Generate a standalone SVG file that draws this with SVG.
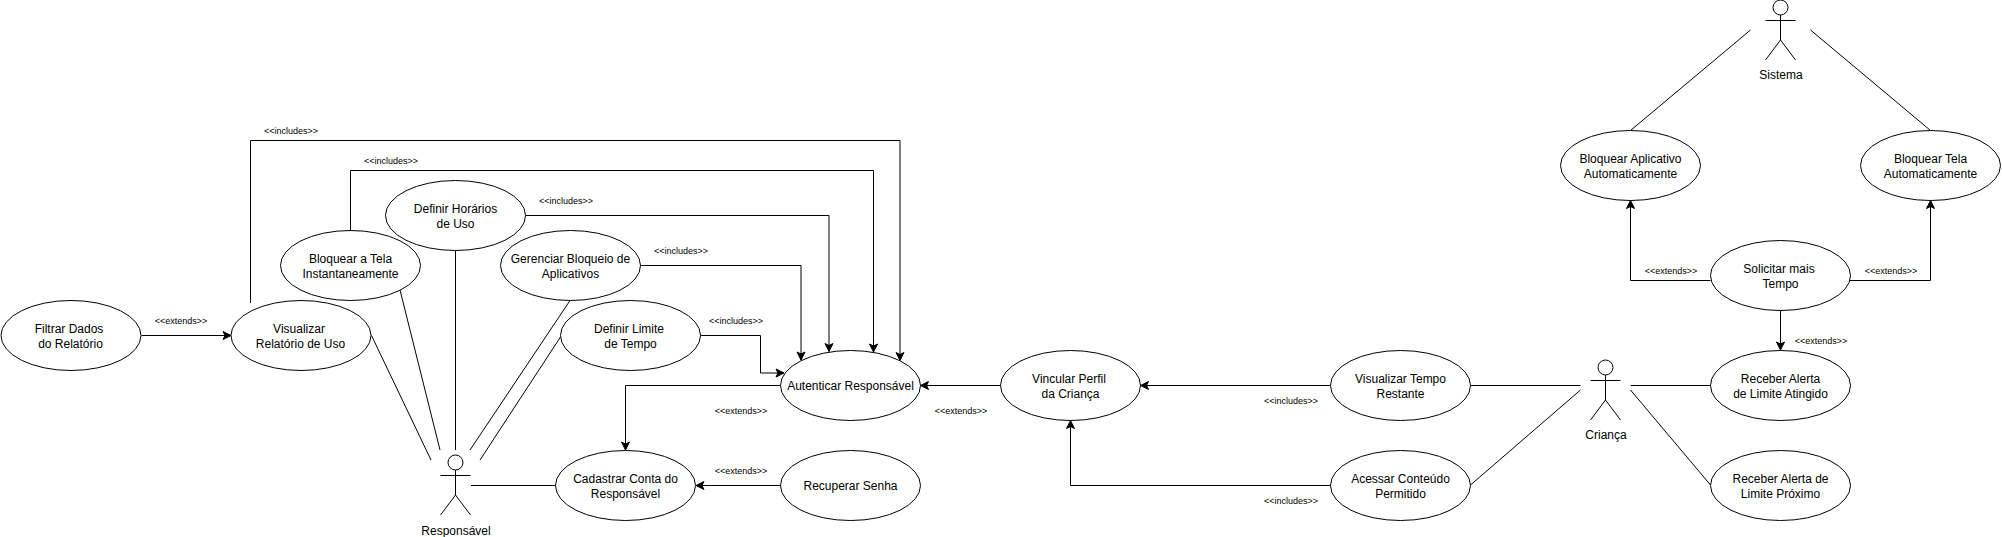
<svg xmlns="http://www.w3.org/2000/svg" width="2002" height="537" viewBox="0 0 2002 537">
<style>
text{font-family:"Liberation Sans",Arial,sans-serif;fill:#000;text-anchor:middle}
.t{font-size:12px}
.l{font-size:9px}
ellipse{fill:#fff;stroke:#000;stroke-width:1}
.c{fill:none;stroke:#000;stroke-width:1}
.a{marker-end:url(#arr)}
.s{fill:none;stroke:#000;stroke-width:1}
</style>
<defs>
<marker id="arr" markerUnits="userSpaceOnUse" markerWidth="10" markerHeight="10" refX="9" refY="5" orient="auto" overflow="visible">
<path d="M1 1 L9 5 L1 9 L3 5Z" fill="#000" stroke="#000" stroke-width="1"/>
</marker>
</defs>
<rect width="2002" height="537" fill="#fff"/>
<g id="connectors">
<path class="c a" d="M141.5 335.5H231"/>
<path class="c a" d="M250.5 303V140.5H900V360.5"/>
<path class="c a" d="M350.5 230V170.5H873.5V352"/>
<path class="c a" d="M525.5 215.5H829V351.5"/>
<path class="c a" d="M640.5 265.5H801V360"/>
<path class="c a" d="M700.5 335.5H760.5V373H784"/>
<path class="c a" d="M780.5 385.5H625.5V450"/>
<path class="c a" d="M1001 385.5H920.5"/>
<path class="c a" d="M781 485.5H696"/>
<path class="c a" d="M1330.5 385.5H1140.5"/>
<path class="c a" d="M1330.5 485.5H1070.5V420.5"/>
<path class="c a" d="M1710.5 280.5H1630.5V200.5"/>
<path class="c a" d="M1850 280.5H1930.5V200.5"/>
<path class="c a" d="M1780.5 310.5V350"/>
<path class="c" d="M371.5 335.5L431 460"/>
<path class="c" d="M400 290L440 450"/>
<path class="c" d="M455.5 250.5V450"/>
<path class="c" d="M570 300.5L470 450"/>
<path class="c" d="M560.5 337L480 460"/>
<path class="c" d="M471 485.5H555.5"/>
<path class="c" d="M1470.5 385.5H1580.5"/>
<path class="c" d="M1470.5 485L1580.5 390"/>
<path class="c" d="M1630.5 385.5H1710.5"/>
<path class="c" d="M1630.5 390L1710.5 485"/>
<path class="c" d="M1750.5 30L1630.5 130.5"/>
<path class="c" d="M1810.5 30L1930.5 130.5"/>
<text class="l" x="181" y="324">&lt;&lt;extends&gt;&gt;</text>
<text class="l" x="291" y="134">&lt;&lt;includes&gt;&gt;</text>
<text class="l" x="391" y="164">&lt;&lt;includes&gt;&gt;</text>
<text class="l" x="566" y="204">&lt;&lt;includes&gt;&gt;</text>
<text class="l" x="681" y="254">&lt;&lt;includes&gt;&gt;</text>
<text class="l" x="736" y="324">&lt;&lt;includes&gt;&gt;</text>
<text class="l" x="741" y="414">&lt;&lt;extends&gt;&gt;</text>
<text class="l" x="961" y="414">&lt;&lt;extends&gt;&gt;</text>
<text class="l" x="741" y="474">&lt;&lt;extends&gt;&gt;</text>
<text class="l" x="1291" y="404">&lt;&lt;includes&gt;&gt;</text>
<text class="l" x="1291" y="504">&lt;&lt;includes&gt;&gt;</text>
<text class="l" x="1671" y="274">&lt;&lt;extends&gt;&gt;</text>
<text class="l" x="1891" y="274">&lt;&lt;extends&gt;&gt;</text>
<text class="l" x="1821" y="344">&lt;&lt;extends&gt;&gt;</text>
</g>
<g id="filtrar-dados"><ellipse cx="71" cy="335.5" rx="70" ry="35"/><text class="t" x="69" y="333">Filtrar Dados</text><text class="t" x="70.5" y="348">do Relatório</text></g>
<g id="visualizar-relatorio"><ellipse cx="301" cy="335.5" rx="70" ry="35"/><text class="t" x="299" y="333">Visualizar</text><text class="t" x="300.5" y="348">Relatório de Uso</text></g>
<g id="bloquear-tela"><ellipse cx="350.5" cy="265.5" rx="70" ry="35"/><text class="t" x="350.5" y="263">Bloquear a Tela</text><text class="t" x="350.5" y="278">Instantaneamente</text></g>
<g id="definir-horarios"><ellipse cx="455.5" cy="215.5" rx="70" ry="35"/><text class="t" x="455.5" y="213">Definir Horários</text><text class="t" x="455.5" y="228">de Uso</text></g>
<g id="gerenciar-bloqueio"><ellipse cx="570.5" cy="265.5" rx="70" ry="35"/><text class="t" x="570.5" y="263">Gerenciar Bloqueio de</text><text class="t" x="570.5" y="278">Aplicativos</text></g>
<g id="definir-limite"><ellipse cx="630.5" cy="335.5" rx="70" ry="35"/><text class="t" x="629" y="333">Definir Limite</text><text class="t" x="630.5" y="348">de Tempo</text></g>
<g id="autenticar"><ellipse cx="850.5" cy="385.5" rx="70" ry="35"/><text class="t" x="850.5" y="390">Autenticar Responsável</text></g>
<g id="cadastrar"><ellipse cx="625.5" cy="485.5" rx="70" ry="35"/><text class="t" x="625.5" y="483">Cadastrar Conta do</text><text class="t" x="625.5" y="498">Responsável</text></g>
<g id="recuperar"><ellipse cx="850.5" cy="485.5" rx="70" ry="35"/><text class="t" x="850.5" y="490">Recuperar Senha</text></g>
<g id="vincular"><ellipse cx="1070.5" cy="385.5" rx="70" ry="35"/><text class="t" x="1069" y="383">Vincular Perfil</text><text class="t" x="1070.5" y="398">da Criança</text></g>
<g id="visualizar-tempo"><ellipse cx="1400.5" cy="385.5" rx="70" ry="35"/><text class="t" x="1400.5" y="383">Visualizar Tempo</text><text class="t" x="1400.5" y="398">Restante</text></g>
<g id="acessar"><ellipse cx="1400.5" cy="485.5" rx="70" ry="35"/><text class="t" x="1400.5" y="483">Acessar Conteúdo</text><text class="t" x="1400.5" y="498">Permitido</text></g>
<g id="bloquear-aplicativo"><ellipse cx="1630.5" cy="165.5" rx="70" ry="35"/><text class="t" x="1630.5" y="163">Bloquear Aplicativo</text><text class="t" x="1630.5" y="178">Automaticamente</text></g>
<g id="bloquear-tela-auto"><ellipse cx="1930.5" cy="165.5" rx="70" ry="35"/><text class="t" x="1930.5" y="163">Bloquear Tela</text><text class="t" x="1930.5" y="178">Automaticamente</text></g>
<g id="solicitar"><ellipse cx="1780.5" cy="275.5" rx="70" ry="35"/><text class="t" x="1779" y="273">Solicitar mais</text><text class="t" x="1780.5" y="288">Tempo</text></g>
<g id="alerta-atingido"><ellipse cx="1780.5" cy="385.5" rx="70" ry="35"/><text class="t" x="1780.5" y="383">Receber Alerta</text><text class="t" x="1780.5" y="398">de Limite Atingido</text></g>
<g id="alerta-proximo"><ellipse cx="1780.5" cy="485.5" rx="70" ry="35"/><text class="t" x="1780.5" y="483">Receber Alerta de</text><text class="t" x="1780.5" y="498">Limite Próximo</text></g>
<g id="actor-responsavel"><circle class="s" cx="455.5" cy="462.5" r="7.5"/><path class="s" d="M455.5 470V495M440.5 475.5H470.5M455.5 495L440.5 515M455.5 495L470.5 515"/><text class="t" x="456" y="534.5">Responsável</text></g>
<g id="actor-crianca"><circle class="s" cx="1605.5" cy="367.5" r="7.5"/><path class="s" d="M1605.5 375V400M1590.5 380.5H1620.5M1605.5 400L1590.5 420M1605.5 400L1620.5 420"/><text class="t" x="1606" y="439">Criança</text></g>
<g id="actor-sistema"><circle class="s" cx="1780.5" cy="7.5" r="7.5"/><path class="s" d="M1780.5 15V40M1765.5 20.5H1795.5M1780.5 40L1765.5 60M1780.5 40L1795.5 60"/><text class="t" x="1781" y="79">Sistema</text></g>
</svg>
